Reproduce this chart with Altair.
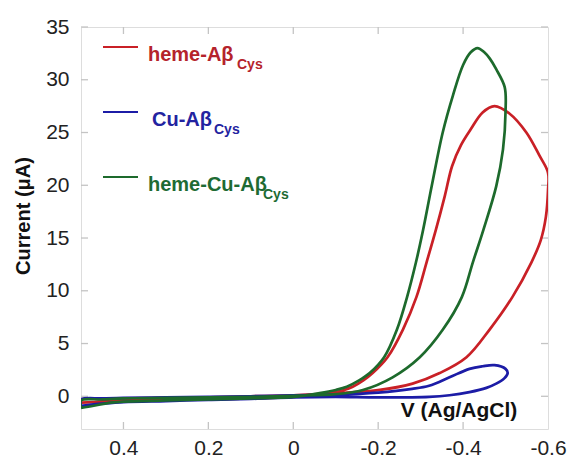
import altair as alt
import pandas as pd

# ---- data (V vs Ag/AgCl, current in uA) ----
red_v = [0.5, 0.45, 0.4, 0.3, 0.2, 0.1, 0.0, -0.05, -0.086, -0.12, -0.14, -0.165, -0.187, -0.222,
         -0.258, -0.29, -0.314, -0.336, -0.357, -0.374, -0.395, -0.418, -0.446, -0.474, -0.509,
         -0.549, -0.58, -0.6, -0.6, -0.595, -0.583, -0.561, -0.516, -0.462, -0.408, -0.345, -0.281,
         -0.204, -0.11, 0.0, 0.1, 0.2, 0.3, 0.4, 0.45, 0.5, 0.5]
red_i = [-0.6, -0.5, -0.45, -0.35, -0.3, -0.2, -0.05, 0.1, 0.3, 0.6, 0.9, 1.5, 2.2, 3.7,
         6.3, 9.4, 12.7, 15.8, 19.0, 21.8, 23.8, 25.3, 26.9, 27.5, 26.8,
         25.0, 22.8, 21.2, 19.5, 17.0, 14.8, 12.7, 9.4, 6.3, 3.7, 2.2, 1.2,
         0.6, 0.3, 0.1, 0.0, -0.1, -0.15, -0.2, -0.25, -0.3, -0.6]

blue_v = [0.5, 0.45, 0.4, 0.3, 0.2, 0.1, 0.0, -0.1, -0.2, -0.32, -0.368, -0.415, -0.455, -0.478,
          -0.497, -0.505, -0.5, -0.474, -0.446, -0.415, -0.368, -0.32, -0.28, -0.2, -0.1, 0.0,
          0.1, 0.2, 0.3, 0.4, 0.45, 0.5, 0.5]
blue_i = [-0.9, -0.7, -0.55, -0.45, -0.35, -0.25, -0.1, -0.05, -0.1, -0.05, 0.1, 0.4, 0.8, 1.2,
          1.7, 2.2, 2.6, 2.95, 2.85, 2.6, 1.8, 1.0, 0.7, 0.35, 0.15, 0.1,
          0.0, -0.05, -0.1, -0.15, -0.2, -0.3, -0.9]

green_v = [0.5, 0.47, 0.43, 0.4, 0.3, 0.2, 0.1, 0.0, -0.062, -0.1, -0.126, -0.155, -0.18, -0.214,
           -0.244, -0.268, -0.289, -0.306, -0.326, -0.352, -0.376, -0.4, -0.418, -0.434, -0.45,
           -0.463, -0.478, -0.498, -0.5, -0.494, -0.478, -0.448, -0.423, -0.397, -0.352,
           -0.298, -0.234, -0.164, -0.1, 0.0, 0.1, 0.2, 0.3, 0.4, 0.45, 0.5, 0.5]
green_i = [-1.1, -0.9, -0.6, -0.5, -0.4, -0.3, -0.2, -0.05, 0.3, 0.6, 0.9, 1.5, 2.2, 3.7,
           6.3, 9.4, 12.7, 15.8, 19.9, 25.0, 28.5, 31.4, 32.6, 33.0, 32.6,
           32.0, 31.0, 29.3, 27.0, 23.4, 19.9, 15.8, 12.7, 9.4, 6.3,
           3.7, 1.8, 0.6, 0.2, 0.05, -0.05, -0.1, -0.15, -0.2, -0.3, -0.4, -1.1]

series_names = ["heme-Aβ", "Cu-Aβ", "heme-Cu-Aβ"]
series_colors = ["#c92026", "#1c1ca6", "#1d6a2c"]
text_colors = ["#b5232b", "#2323a0", "#1e6b33"]

x_ticks = [0.4, 0.2, 0.0, -0.2, -0.4]
y_ticks = [0, 5, 10, 15, 20, 25, 30, 35]

W, H = 467, 402
FONT = "Liberation Sans"

rows = []
for name, vs, cs in zip(series_names, [red_v, blue_v, green_v], [red_i, blue_i, green_i]):
    for k, (v, c) in enumerate(zip(vs, cs)):
        rows.append({"series": name, "V": v, "I": c, "order": k})
df = pd.DataFrame(rows)

xscale = alt.Scale(domain=[-0.6, 0.5], reverse=True, nice=False, zero=False)
yscale = alt.Scale(domain=[-3.1, 35], nice=False, zero=False)

label_expr = ("datum.value == 0 ? '0' : (datum.value < 0 ? '-' + format(-datum.value, '.1f') "
              ": format(datum.value, '.1f'))")

curves = alt.Chart(df).mark_line(strokeWidth=2.7, interpolate="catmull-rom", clip=True).encode(
    x=alt.X("V:Q", scale=xscale,
            axis=alt.Axis(values=x_ticks + [-0.6], title=None, tickSize=0, domain=False,
                          grid=False, labelFontSize=21, labelFont=FONT, labelColor="#222",
                          labelPadding=8, labelExpr=label_expr, labelFlush=False,
                          labelOverlap=False)),
    y=alt.Y("I:Q", scale=yscale,
            axis=alt.Axis(values=y_ticks, title=None, tickSize=0, domain=False, grid=False,
                          labelFontSize=21, labelFont=FONT, labelColor="#222",
                          labelPadding=12, labelFlush=False)),
    color=alt.Color("series:N", scale=alt.Scale(domain=series_names, range=series_colors),
                    legend=None),
    order="order:Q",
    detail="series:N",
)

tick_color = "#c4c4c4"
xt = pd.DataFrame({"V": x_ticks})
yt = pd.DataFrame({"I": y_ticks})
ticks = [
    alt.Chart(xt).mark_rule(color=tick_color, strokeWidth=1.3).encode(
        x=alt.X("V:Q", scale=xscale), y=alt.value(H), y2=alt.value(H - 7)),
    alt.Chart(xt).mark_rule(color=tick_color, strokeWidth=1.3).encode(
        x=alt.X("V:Q", scale=xscale), y=alt.value(0), y2=alt.value(7)),
    alt.Chart(yt).mark_rule(color=tick_color, strokeWidth=1.3).encode(
        y=alt.Y("I:Q", scale=yscale), x=alt.value(0), x2=alt.value(7)),
    alt.Chart(yt).mark_rule(color=tick_color, strokeWidth=1.3).encode(
        y=alt.Y("I:Q", scale=yscale), x=alt.value(W), x2=alt.value(W - 7)),
]

one = pd.DataFrame({"a": [0]})
legend_layers = []
line_y = [20, 85, 150]
sub_x = [156, 133, 182]
text_x = [67, 71, 67]
for i, name in enumerate(series_names):
    legend_layers.append(alt.Chart(one).mark_rule(color=series_colors[i], strokeWidth=2.0).encode(
        x=alt.value(22), x2=alt.value(57), y=alt.value(line_y[i])))
    legend_layers.append(alt.Chart(one).mark_text(
        text=name, font=FONT, fontSize=20, fontWeight="bold", color=text_colors[i],
        align="left", baseline="alphabetic").encode(
        x=alt.value(text_x[i]), y=alt.value(line_y[i] + 14)))
    legend_layers.append(alt.Chart(one).mark_text(
        text="Cys", font=FONT, fontSize=14, fontWeight="bold", color=text_colors[i],
        align="left", baseline="alphabetic").encode(
        x=alt.value(sub_x[i]), y=alt.value(line_y[i] + 22)))

xtitle = alt.Chart(one).mark_text(
    text="V (Ag/AgCl)", font=FONT, fontSize=21, fontWeight="bold", color="#111",
    align="center", baseline="alphabetic").encode(x=alt.value(378), y=alt.value(389.5))
ytitle = alt.Chart(one).mark_text(
    text="Current (μA)", font=FONT, fontSize=20, fontWeight="bold", color="#111",
    align="center", baseline="middle", angle=270).encode(x=alt.value(-57), y=alt.value(189))

chart = alt.layer(*ticks, curves, *legend_layers, xtitle, ytitle).properties(
    width=W, height=H,
    autosize=alt.AutoSizeParams(type="none"),
    padding={"left": 81, "top": 27, "right": 22, "bottom": 30},
).configure_view(stroke="#c4c4c4", strokeWidth=1.5).configure(background="white")

chart.save("out.html", embed_options={"renderer": "svg", "actions": False})
